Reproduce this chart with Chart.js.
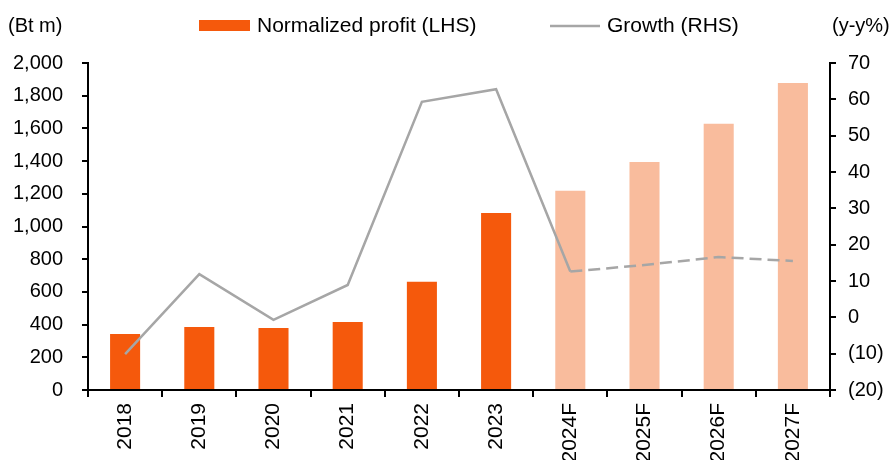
<!DOCTYPE html>
<html>
<head>
<meta charset="utf-8">
<script src="https://cdn.jsdelivr.net/npm/chart.js@4"></script>
<style>
  html, body { margin: 0; padding: 0; background: #fff; }
  #wrap { width: 896px; height: 460px; }
</style>
</head>
<body>
<div id="wrap"><canvas id="myChart"></canvas></div>
<script>
// Normalized profit and growth, 2018-2027F
const years = ['2018', '2019', '2020', '2021', '2022', '2023', '2024F', '2025F', '2026F', '2027F'];
const profit = [342, 385, 379, 416, 662, 1083, 1218, 1395, 1628, 1878]; // Bt m (LHS)
const growth = [-10.1, 11.9, -0.7, 8.9, 59.3, 62.8, 12.6, 14.4, 16.6, 15.5]; // y-y% (RHS)
const firstForecast = 6; // index of 2024F

const leftTicks = [0, 200, 400, 600, 800, 1000, 1200, 1400, 1600, 1800, 2000];
const rightTicks = [-20, -10, 0, 10, 20, 30, 40, 50, 60, 70];

const orange = '#F5590C';
const lightOrange = '#F9BC9D';
const grey = '#A6A6A6';
const fontFamily = '"Liberation Sans", Arial, sans-serif';

Chart.defaults.font.family = fontFamily;
Chart.defaults.font.size = 20;
Chart.defaults.color = '#000';

// legend and unit labels drawn on top
const headerPlugin = {
    id: 'header',
    afterDraw(chart) {
        const c = chart.ctx;
        c.save();
        c.font = '20px ' + fontFamily;
        c.fillStyle = '#000';
        c.textBaseline = 'middle';
        c.textAlign = 'left';
        c.fillText('(Bt m)', 8, 26);
        c.fillText('(y-y%)', 832, 26);

        c.font = '21px ' + fontFamily;
        c.fillStyle = orange;
        c.fillRect(199, 20, 51, 11);
        c.fillStyle = '#000';
        c.fillText('Normalized profit (LHS)', 257, 26);

        c.strokeStyle = grey;
        c.lineWidth = 2.5;
        c.beginPath();
        c.moveTo(550, 26);
        c.lineTo(600, 26);
        c.stroke();
        c.fillText('Growth (RHS)', 607, 26);
        c.restore();
    }
};

const ctx = document.getElementById('myChart');
new Chart(ctx, {
    type: 'bar',
    data: {
        labels: years,
        datasets: [
            {
                type: 'line',
                label: 'Growth (RHS)',
                data: growth,
                yAxisID: 'y1',
                borderColor: grey,
                borderWidth: 2.5,
                pointRadius: 0,
                tension: 0,
                order: 0,
                segment: {
                    borderDash: c => c.p0DataIndex >= firstForecast ? [12, 6] : undefined
                }
            },
            {
                label: 'Normalized profit (LHS)',
                data: profit,
                yAxisID: 'y',
                backgroundColor: years.map((y, i) => i >= firstForecast ? lightOrange : orange),
                barPercentage: 0.405,
                categoryPercentage: 1,
                order: 1
            }
        ]
    },
    options: {
        responsive: true,
        maintainAspectRatio: false,
        animation: false,
        layout: { padding: { top: 63, left: 0, right: 0, bottom: 0 } },
        plugins: {
            legend: { display: false },
            tooltip: { enabled: false }
        },
        scales: {
            x: {
                grid: { display: true, drawOnChartArea: false, offset: true, tickLength: 7, color: '#000', lineWidth: 2 },
                border: { display: true, color: '#000', width: 2 },
                ticks: { minRotation: 90, maxRotation: 90, padding: 6, font: { size: 21 } },
                afterFit: s => { s.height = 70; }
            },
            y: {
                position: 'left',
                min: 0,
                max: 2000,
                afterBuildTicks: s => { s.ticks = leftTicks.map(v => ({ value: v })); },
                grid: { drawOnChartArea: false, tickLength: 6, color: '#000', lineWidth: 2 },
                border: { display: true, color: '#000', width: 2 },
                ticks: { padding: 19, callback: v => v.toLocaleString('en-US') },
                afterFit: s => { s.width = 88; }
            },
            y1: {
                position: 'right',
                min: -20,
                max: 70,
                afterBuildTicks: s => { s.ticks = rightTicks.map(v => ({ value: v })); },
                grid: { drawOnChartArea: false, tickLength: 6, color: '#000', lineWidth: 2 },
                border: { display: true, color: '#000', width: 2 },
                ticks: { padding: 12, callback: v => v < 0 ? '(' + (-v) + ')' : String(v) },
                afterFit: s => { s.width = 66; }
            }
        }
    },
    plugins: [headerPlugin]
});
</script>
</body>
</html>
